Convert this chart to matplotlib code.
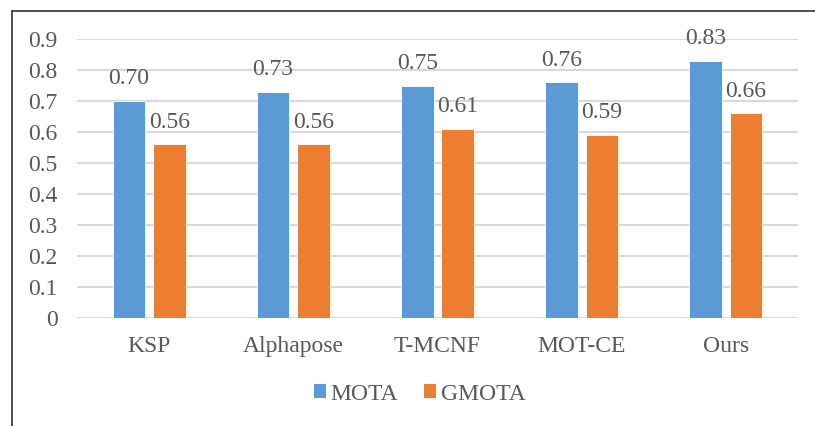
import matplotlib
matplotlib.use("Agg")
import matplotlib.pyplot as plt
from matplotlib.lines import Line2D
from matplotlib.patches import Patch
import numpy as np

methods = ["KSP", "Alphapose", "T-MCNF", "MOT-CE", "Ours"]
mota = [0.70, 0.73, 0.75, 0.76, 0.83]
gmota = [0.56, 0.56, 0.61, 0.59, 0.66]
yticks = [0, 0.1, 0.2, 0.3, 0.4, 0.5, 0.6, 0.7, 0.8, 0.9]

blue = "#5B9BD5"
orange = "#ED7D31"
text_gray = "#595959"
grid_gray = "#D9D9D9"

plt.rcParams["font.family"] = ["Liberation Serif", "DejaVu Serif"]

W, H = 815, 426
fig = plt.figure(figsize=(W / 100, H / 100), dpi=100)
ax = fig.add_axes([77 / W, 1 - 318 / H, (798 - 77) / W, (318 - 39) / H])

x = np.arange(len(methods))
bw = 0.225
off = 0.14
b1 = ax.bar(x - off, mota, bw, color=blue, edgecolor="white", linewidth=0.6, zorder=3)
b2 = ax.bar(x + off, gmota, bw, color=orange, edgecolor="white", linewidth=0.6, zorder=3)

for bars, vals in ((b1, mota), (b2, gmota)):
    for r, v in zip(bars, vals):
        ax.annotate(f"{v:.2f}", (r.get_x() + r.get_width() / 2, v),
                    xytext=(0, 12), textcoords="offset points",
                    ha="center", va="baseline", fontsize=17, color=text_gray)

ax.set_xlim(-0.5, len(methods) - 0.5)
ax.set_ylim(0, 0.9)
ax.set_yticks(yticks)
ax.set_yticklabels([f"{t:g}" for t in yticks])
ax.set_xticks(x)
ax.set_xticklabels(methods)
ax.tick_params(axis="y", length=0, pad=14, labelsize=17, labelcolor=text_gray)
ax.tick_params(axis="x", length=0, pad=13, labelsize=17, labelcolor=text_gray)
ax.grid(axis="y", color=grid_gray, linewidth=1.5, zorder=0)
for s in ax.spines.values():
    s.set_visible(False)

handles = [Patch(facecolor=blue, edgecolor="none", label="MOTA"),
           Patch(facecolor=orange, edgecolor="none", label="GMOTA")]
leg = fig.legend(handles=handles, loc="center", bbox_to_anchor=(420 / W, 1 - 394 / H),
                 ncol=2, frameon=False, fontsize=17, handlelength=0.5, handleheight=0.5,
                 handletextpad=0.2, columnspacing=1.1)
for t in leg.get_texts():
    t.set_color(text_gray)

# outer chart border (left and top edges)
bx, by = 12 / W, 1 - 11 / H
fig.add_artist(Line2D([bx, bx], [0, by], transform=fig.transFigure, color="#404040", linewidth=1.3))
fig.add_artist(Line2D([bx, 1], [by, by], transform=fig.transFigure, color="#404040", linewidth=1.3))

fig.savefig("out.png", dpi=100)
